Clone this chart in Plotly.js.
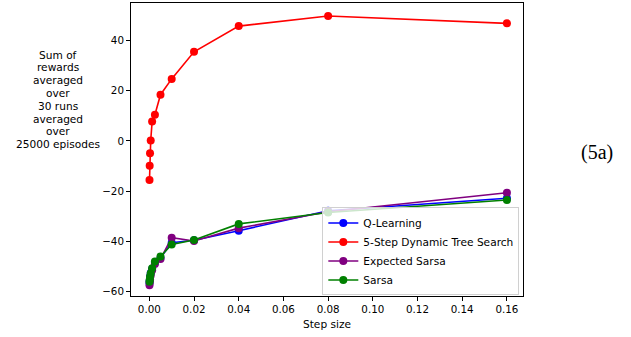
<!DOCTYPE html>
<html>
<head>
<meta charset="utf-8">
<script src="https://cdn.plot.ly/plotly-3.0.1.min.js"></script>
<style>
  html, body { margin: 0; padding: 0; background: #ffffff; }
  #chart { width: 631px; height: 337px; }
</style>
</head>
<body>
<div id="chart"></div>
<script>
// Step sizes (halving sequence)
const stepSizes = [0.000078125, 0.00015625, 0.0003125, 0.000625, 0.00125, 0.0025, 0.005, 0.01, 0.02, 0.04, 0.08, 0.16];

// Series values (sum of rewards)
const qLearning     = [-56.5, -55.5, -54.0, -52.5, -51.0, -48.5, -46.5, -40.5, -39.5, -35.7, -27.8, -22.8];
const dynTreeSearch = [-15.5, -9.9, -4.9, 0.2, 7.7, 10.4, 18.4, 24.7, 35.5, 45.7, 49.7, 46.8];
const expectedSarsa = [-57.4, -56.3, -55.0, -53.5, -51.5, -49.0, -47.0, -38.5, -39.8, -34.7, -28.2, -20.6];
const sarsa         = [-56.0, -55.3, -54.0, -52.6, -50.7, -48.0, -46.0, -41.2, -39.4, -33.0, -28.5, -23.5];

const seriesNames = ["Q-Learning", "5-Step Dynamic Tree Search", "Expected Sarsa", "Sarsa"];
const seriesColors = ["#0000ff", "#ff0000", "#800080", "#008000"];
const seriesValues = [qLearning, dynTreeSearch, expectedSarsa, sarsa];

// Tick labels
const xTickVals = [0, 0.02, 0.04, 0.06, 0.08, 0.10, 0.12, 0.14, 0.16];
const xTickText = ["0.00", "0.02", "0.04", "0.06", "0.08", "0.10", "0.12", "0.14", "0.16"];
const yTickVals = [-60, -40, -20, 0, 20, 40];
const yTickText = ["\u221260", "\u221240", "\u221220", "0", "20", "40"];

const yTitleLines = ["Sum of", "rewards", "averaged", "over", "30 runs", "averaged", "over", "25000 episodes"];
const xTitleText = "Step size";
const sideLabel = "(5a)";

const FONT = "DejaVu Sans, sans-serif";

// plot box geometry (pixels) used to place the multi-line left label
const W = 631, H = 337, ML = 131, MR = 108, MT = 3, MB = 41;
const plotH = H - MT - MB;

const traces = seriesValues.map((vals, i) => ({
  x: stepSizes,
  y: vals,
  name: seriesNames[i],
  type: "scatter",
  mode: "lines+markers",
  line: { color: seriesColors[i], width: 1.6 },
  marker: { color: seriesColors[i], size: 8 },
  cliponaxis: false
}));

const axisCommon = {
  showgrid: false,
  zeroline: false,
  showline: true,
  mirror: true,
  linecolor: "#000000",
  linewidth: 1,
  ticks: "outside",
  ticklen: 4,
  tickwidth: 1,
  tickcolor: "#000000",
  tickfont: { family: FONT, size: 10.3, color: "#000000" }
};

// left multi-line label, one annotation per line (matplotlib-like tight spacing)
const firstLineY = 54.7, lineStep = 12.76;
const yTitleAnnotations = yTitleLines.map((t, i) => ({
  text: t,
  xref: "paper", yref: "paper",
  x: -0.186,
  y: (H - MB - (firstLineY + i * lineStep)) / plotH,
  xanchor: "center", yanchor: "middle",
  showarrow: false,
  font: { family: FONT, size: 10.6, color: "#000000" }
}));

const layout = {
  width: W,
  height: H,
  margin: { l: ML, r: MR, t: MT, b: MB },
  paper_bgcolor: "#ffffff",
  plot_bgcolor: "#ffffff",
  font: { family: FONT, size: 10.3, color: "#000000" },
  xaxis: Object.assign({}, axisCommon, {
    range: [-0.0082, 0.1672],
    tickmode: "array",
    tickvals: xTickVals,
    ticktext: xTickText,
    title: { text: xTitleText, font: { family: FONT, size: 10.6, color: "#000000" }, standoff: 6 }
  }),
  yaxis: Object.assign({}, axisCommon, {
    range: [-61.7, 54.9],
    tickmode: "array",
    tickvals: yTickVals,
    ticktext: yTickText
  }),
  showlegend: true,
  legend: {
    x: 0.9906, xanchor: "right",
    y: 0.152, yanchor: "middle",
    bgcolor: "rgba(255,255,255,0.8)",
    bordercolor: "#d0d0d0",
    borderwidth: 1,
    font: { family: FONT, size: 10.6, color: "#000000" },
    tracegroupgap: 0
  },
  annotations: yTitleAnnotations.concat([
    {
      text: sideLabel,
      xref: "paper", yref: "paper",
      x: 1.189, y: 0.490,
      xanchor: "center", yanchor: "middle",
      showarrow: false,
      font: { family: "Liberation Serif, Times New Roman, serif", size: 20, color: "#000000" }
    }
  ])
};

Plotly.newPlot("chart", traces, layout, { displayModeBar: false, staticPlot: true });
</script>
</body>
</html>
